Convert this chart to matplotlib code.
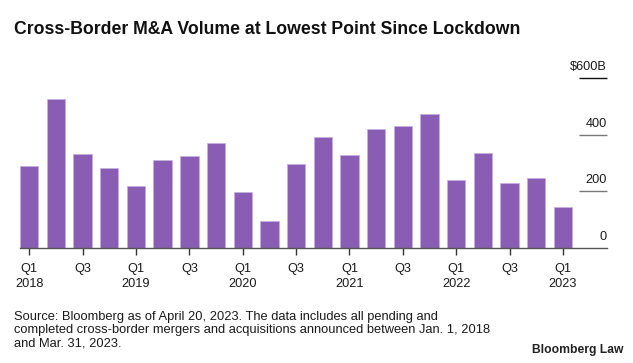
import matplotlib
matplotlib.use("Agg")
import matplotlib.pyplot as plt
import numpy as np

plt.rcParams['font.family'] = ['Liberation Sans', 'DejaVu Sans']

# quarterly cross-border M&A volume, $B (Q1 2018 .. Q1 2023)
quarters = ['Q1', 'Q2', 'Q3', 'Q4'] * 5 + ['Q1']
years = [y for y in range(2018, 2023) for _ in range(4)] + [2023]
volume = [291, 527, 333, 283, 218, 310, 326, 371, 197, 95,
          296, 394, 330, 422, 432, 473, 241, 337, 231, 248, 144]
y_ticks = [0, 200, 400, 600]
y_labels = ['0', '200', '400', '$600B']

W, H = 633, 363
fig = plt.figure(figsize=(W / 100, H / 100), dpi=100)
ax = fig.add_axes([20 / W, 115 / H, 587 / W, 169.7 / H])

x = np.arange(len(volume))
ax.bar(x, volume, width=0.69, color='#8a5db4', edgecolor='#c7b0df', linewidth=0.6)

ax.set_xlim(-0.345, 21.65)
ax.set_ylim(0, 600)

for s in ['top', 'right', 'left']:
    ax.spines[s].set_visible(False)
ax.spines['bottom'].set_color('#555555')
ax.spines['bottom'].set_linewidth(1.0)
ax.set_yticks([])

# x ticks every second quarter
tick_pos = x[::2]
tick_lab = []
for i in tick_pos:
    if quarters[i] == 'Q1':
        tick_lab.append(f'{quarters[i]}\n{years[i]}')
    else:
        tick_lab.append(quarters[i])
ax.set_xticks(tick_pos)
ax.set_xticklabels(tick_lab, fontsize=9.2, color='#1a1a1a', linespacing=1.35, va='top')
ax.tick_params(axis='x', length=5, width=1, color='#333333', pad=6)

# right-side value labels with short lines under them
ytr = ax.get_yaxis_transform()
for v, lab in zip(y_ticks, y_labels):
    c = '#111111' if v == 600 else '#777777'
    if v > 0:
        ax.hlines(v, 0.952, 1.0, transform=ytr, color=c, linewidth=1.0, clip_on=False)
    ax.text(1.0, v + 18, lab, transform=ytr, ha='right', va='bottom',
            fontsize=9.2, color='#1a1a1a', clip_on=False)

fig.text(14 / W, 1 - 30 / H, 'Cross-Border M&A Volume at Lowest Point Since Lockdown',
         fontsize=12.7, fontweight='bold', ha='left', va='center', color='#111111')

fig.text(14 / W, 1 - 330 / H,
         'Source: Bloomberg as of April 20, 2023. The data includes all pending and\n'
         'completed cross-border mergers and acquisitions announced between Jan. 1, 2018\n'
         'and Mar. 31, 2023.',
         fontsize=9.3, ha='left', va='center', color='#1a1a1a', linespacing=1.15)
fig.text(1 - 10 / W, 1 - 350 / H, 'Bloomberg Law', fontsize=8.7, fontweight='bold',
         ha='right', va='center', color='#222222')

fig.savefig('out.png', dpi=100, facecolor='white')
